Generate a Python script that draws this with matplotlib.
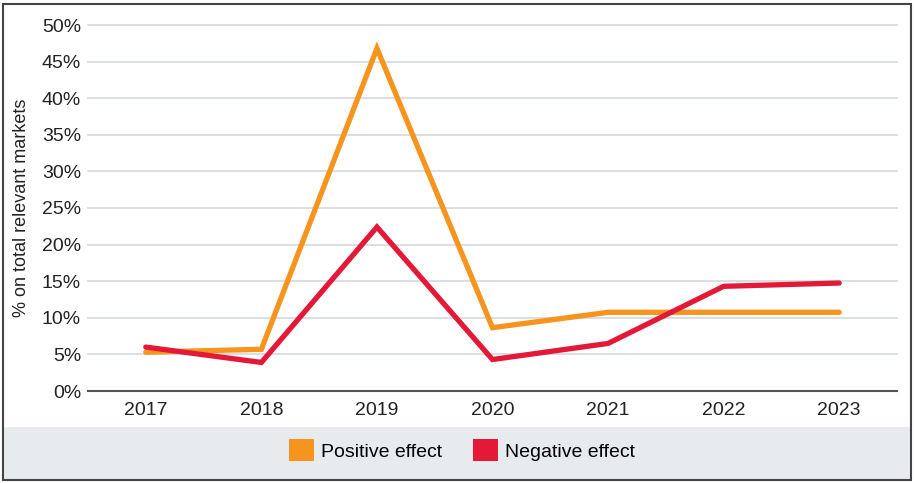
import matplotlib.pyplot as plt
from matplotlib.patches import Rectangle, Patch

# chart data
years = ['2017', '2018', '2019', '2020', '2021', '2022', '2023']
positive = [5.3, 5.7, 46.8, 8.65, 10.75, 10.75, 10.75]
negative = [6.0, 3.9, 22.4, 4.3, 6.5, 14.3, 14.75]
y_ticks = [0, 5, 10, 15, 20, 25, 30, 35, 40, 45, 50]

ORANGE = '#F7941D'
RED = '#E31937'
plt.rcParams['font.family'] = ['Liberation Sans Narrow', 'Liberation Sans', 'DejaVu Sans']

fig = plt.figure(figsize=(9.14, 4.83), dpi=100, facecolor='white')
W, H = 914, 483

# grey legend band and outer frame
fig.patches.append(Rectangle((3 / W, 3 / H), 908 / W, 53 / H, transform=fig.transFigure,
                             facecolor='#E8EBED', edgecolor='none', zorder=0))
fig.patches.append(Rectangle((3 / W, 3 / H), 908 / W, 476 / H, transform=fig.transFigure,
                             facecolor='none', edgecolor='#444444', linewidth=1.5, zorder=5))

ax = fig.add_axes([88 / W, 1 - 391 / H, 809 / W, 366 / H])
x = range(len(years))
ax.plot(x, positive, color=ORANGE, linewidth=3.8, solid_capstyle='round', solid_joinstyle='miter', zorder=3)
ax.plot(x, negative, color=RED, linewidth=3.8, solid_capstyle='round', solid_joinstyle='miter', zorder=4)

ax.set_xlim(-0.5, len(years) - 0.5)
ax.set_ylim(0, 50)
ax.set_xticks(list(x))
ax.set_xticklabels(years)
ax.set_yticks(y_ticks)
ax.set_yticklabels([f'{v}%' for v in y_ticks])
ax.tick_params(axis='both', length=0, labelsize=14, colors='#222222')
ax.tick_params(axis='y', pad=5)
ax.tick_params(axis='x', pad=8)
for v in y_ticks[1:]:
    ax.axhline(v, color='#D8DCE0', linewidth=1.3, zorder=1, clip_on=False)
for s in ['top', 'right', 'left']:
    ax.spines[s].set_visible(False)
ax.spines['bottom'].set_color('#555555')
ax.spines['bottom'].set_linewidth(1.5)
fig.text(22 / W, 1 - 208 / H, '% on total relevant markets', rotation=90, ha='center', va='center',
         fontsize=13, color='#222222')

handles = [Patch(facecolor=ORANGE, edgecolor='none', label='Positive effect'),
           Patch(facecolor=RED, edgecolor='none', label='Negative effect')]
fig.legend(handles=handles, loc='center', bbox_to_anchor=(462 / W, 1 - 450 / H), ncol=2,
           frameon=False, fontsize=14, handlelength=1.3, handleheight=1.3,
           handletextpad=0.35, columnspacing=1.6)

fig.savefig('out.png', dpi=100, facecolor='white')
